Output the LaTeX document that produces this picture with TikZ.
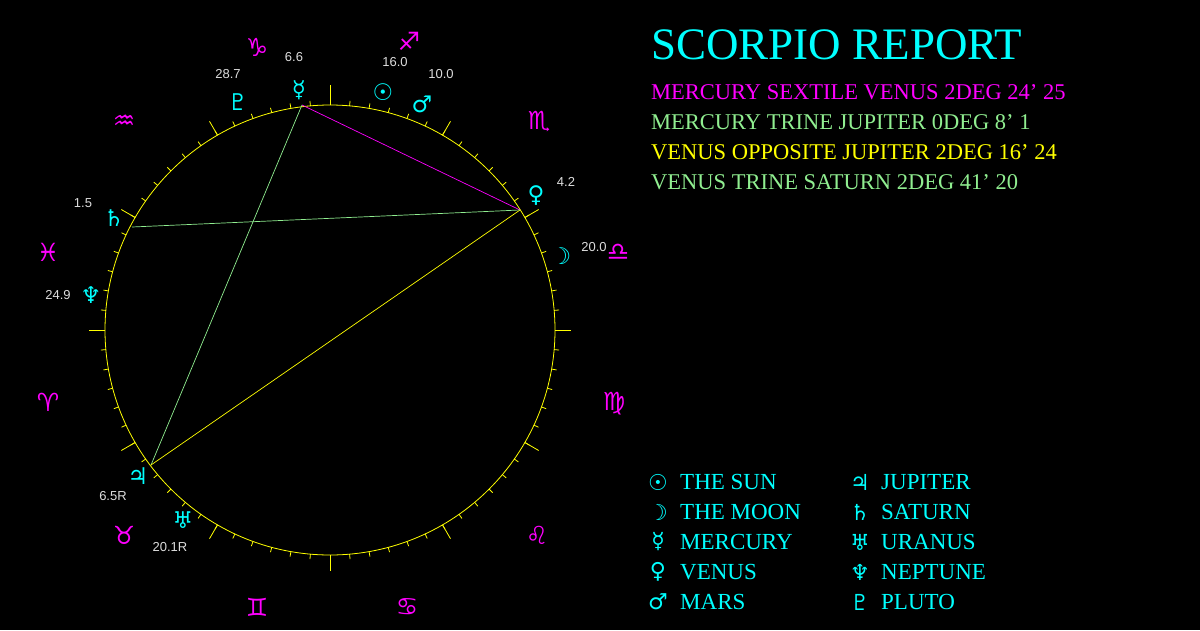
\documentclass[tikz,border=0pt]{standalone}
\usepackage{fontspec}
\setmainfont{Liberation Serif}
\newfontfamily\glyphs{DejaVu Sans}
\newfontfamily\numfont{Liberation Sans}
\definecolor{cy}{HTML}{00FFFF}
\definecolor{mg}{HTML}{FF00FF}
\definecolor{yl}{HTML}{FFFF00}
\definecolor{lg}{HTML}{90EE90}
\definecolor{gr}{HTML}{DDDDDD}
\begin{document}
\begin{tikzpicture}[x=1pt,y=-1pt,
  planet/.style={text=cy,font=\glyphs\fontsize{23}{23}\selectfont,inner sep=0},
  sign/.style={text=mg,font=\glyphs\fontsize{25}{25}\selectfont,inner sep=0},
  deg/.style={text=gr,font=\numfont\fontsize{13}{13}\selectfont,inner sep=0},
  aspect/.style={text=#1,font=\fontsize{22.5}{22.5}\selectfont,anchor=west,inner sep=0},
  legend/.style={text=cy,font=\fontsize{23}{23}\selectfont,anchor=west,inner sep=0},
  lglyph/.style={text=cy,font=\glyphs\fontsize{22}{22}\selectfont,inner sep=0}]
\fill[black] (0,0) rectangle (1200,630);
\useasboundingbox (0,0) rectangle (1200,630);
\draw[yl,line width=0.8pt] (330,330) circle (225);
\foreach \a in {0,5,...,355}{
  \draw[yl,line width=0.8pt] ({330+225*cos(\a)},{330-225*sin(\a)}) -- ({330+230*cos(\a)},{330-230*sin(\a)});}
\foreach \a in {0,30,...,330}{
  \draw[yl,line width=0.8pt] ({330+225*cos(\a)},{330-225*sin(\a)}) -- ({330+241*cos(\a)},{330-241*sin(\a)});}
\draw[yl,line width=0.8pt] (330,105) -- (330,85);
% aspect endpoints
\coordinate (pme) at (302,105);
\coordinate (pve) at (520,210);
\coordinate (pju) at (151,465);
\coordinate (psa) at (132,227);
\draw[mg,line width=0.7pt] (pme) -- (pve);
\draw[lg,line width=0.7pt] (pme) -- (pju);
\draw[yl,line width=0.7pt] (pve) -- (pju);
\draw[lg,line width=0.7pt] (pve) -- (psa);
% planets
\node[planet] (me) at (299,90) {☿};
\node[planet] (su) at (383,92) {☉};
\node[planet] (ma) at (422,104) {♂};
\node[planet] (pl) at (238,102) {♇};
\node[planet] (ve) at (536,196) {♀};
\node[planet] (mo) at (561,256) {☽};
\node[planet] (sa) at (114,218) {♄};
\node[planet] (ne) at (91,295) {♆};
\node[planet] (ju) at (138,476) {♃};
\node[planet] (ur) at (183,520) {♅};
\node[deg] (dme) at (294,57) {6.6};
\node[deg] (dsu) at (395,62) {16.0};
\node[deg] (dma) at (441,74) {10.0};
\node[deg] (dpl) at (228,74) {28.7};
\node[deg] (dve) at (566,182) {4.2};
\node[deg] (dmo) at (594,247) {20.0};
\node[deg] (dsa) at (83,203) {1.5};
\node[deg] (dne) at (58,295) {24.9};
\node[deg] (dju) at (113,496) {6.5R};
\node[deg] (dur) at (170,547) {20.1R};
% signs
\node[sign] (cap) at (257,47) {♑};
\node[sign] (sag) at (409,41) {♐};
\node[sign] (sco) at (539,122) {♏};
\node[sign] (lib) at (618,252) {♎};
\node[sign] (vir) at (614,404) {♍};
\node[sign] (leo) at (537,535) {♌};
\node[sign] (can) at (407,607) {♋};
\node[sign] (gem) at (257,607) {♊};
\node[sign] (tau) at (124,535) {♉};
\node[sign] (ari) at (48,402) {♈};
\node[sign] (pis) at (48,252) {♓};
\node[sign] (aqu) at (124,122) {♒};
% text
\node[text=cy,font=\fontsize{45}{45}\selectfont,anchor=west,inner sep=0] (title) at (651,45) {SCORPIO REPORT};
\node[aspect=mg] (a1) at (651,92) {MERCURY SEXTILE VENUS 2DEG 24' 25};
\node[aspect=lg] (a2) at (651,122) {MERCURY TRINE JUPITER 0DEG 8' 1};
\node[aspect=yl] (a3) at (651,152) {VENUS OPPOSITE JUPITER 2DEG 16' 24};
\node[aspect=lg] (a4) at (651,182) {VENUS TRINE SATURN 2DEG 41' 20};
\foreach \g/\t/\y [count=\i] in {☉/THE SUN/482,☽/THE MOON/512,☿/MERCURY/542,♀/VENUS/572,♂/MARS/602}{
  \node[lglyph] (lg\i) at (658,\y) {\g};
  \node[legend] (lt\i) at (680,\y) {\t};}
\foreach \g/\t/\y [count=\i] in {♃/JUPITER/482,♄/SATURN/512,♅/URANUS/542,♆/NEPTUNE/572,♇/PLUTO/602}{
  \node[lglyph] (rg\i) at (860,\y) {\g};
  \node[legend] (rt\i) at (881,\y) {\t};}
\end{tikzpicture}
\end{document}
